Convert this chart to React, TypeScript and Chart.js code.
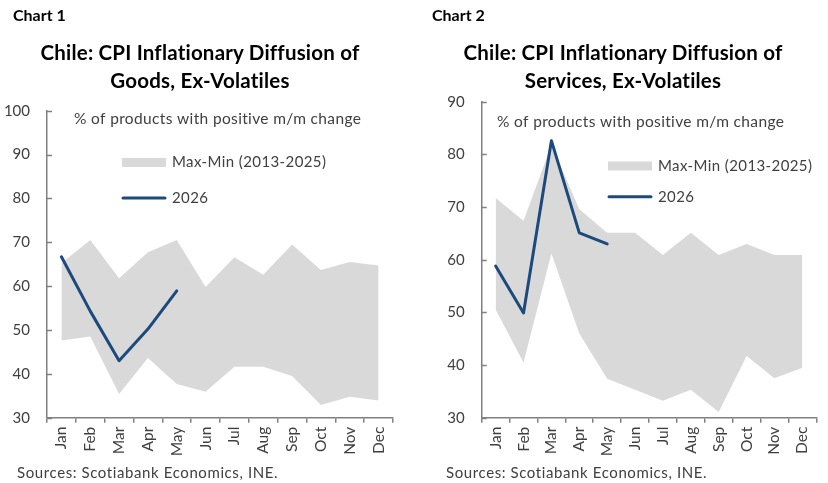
import React, { useEffect, useRef } from 'react';
import { Chart, registerables } from 'chart.js';

Chart.register(...registerables);

// Month categories shared by both panels
const months = ['Jan', 'Feb', 'Mar', 'Apr', 'May', 'Jun', 'Jul', 'Aug', 'Sep', 'Oct', 'Nov', 'Dec'];

// Goods, ex-volatiles: historical range and current year
const goodsMax = [65.2, 70.5, 61.8, 67.7, 70.5, 59.8, 66.6, 62.6, 69.5, 63.7, 65.5, 64.7];
const goodsMin = [47.6, 48.5, 35.4, 43.6, 37.7, 35.9, 41.6, 41.6, 39.5, 32.9, 34.8, 33.9];
const goods2026 = [66.7, 54.3, 43.0, 50.2, 58.9, null, null, null, null, null, null, null];

// Services, ex-volatiles: historical range and current year
const servicesMax = [71.7, 67.4, 81.8, 69.6, 65.1, 65.1, 60.9, 65.1, 60.9, 63.0, 60.9, 60.9];
const servicesMin = [50.5, 40.5, 61.2, 46.0, 37.4, 35.3, 33.2, 35.3, 31.1, 41.7, 37.5, 39.5];
const services2026 = [58.8, 49.9, 82.6, 65.1, 63.0, null, null, null, null, null, null, null];

// Y tick range per panel
const goodsTicks = { min: 30, max: 100, step: 10 };
const servicesTicks = { min: 30, max: 90, step: 10 };

const FONT = 'Lato, "Noto Sans", sans-serif';
const AXIS = '#808080';
const TEXT = '#404040';
const BAND = '#d9d9d9';
const LINE = '#1d4a7c';

const NOTE = '% of products with positive m/m change';
const RANGE_LABEL = 'Max-Min (2013-2025)';
const LINE_LABEL = '2026';
const SOURCE = 'Sources: Scotiabank Economics, INE.';

type Layout = {
  yWidth: number;
  padRight: number;
  padTop: number;
  noteX: number;
  noteY: number;
  legX: number;
  legBoxY: number;
  legLineY: number;
};

type PanelProps = {
  maxVals: number[];
  minVals: number[];
  current: (number | null)[];
  ticks: { min: number; max: number; step: number };
  layout: Layout;
};

const W = 414;
const H = 483;

function Panel({ maxVals, minVals, current, ticks, layout }: PanelProps) {
  const ref = useRef<HTMLCanvasElement | null>(null);

  useEffect(() => {
    if (!ref.current) return;

    // Inward y ticks, note text and in-plot legend
    const overlay = {
      id: 'overlay',
      afterDatasetsDraw(chart: any) {
        const ctx = chart.ctx;
        const area = chart.chartArea;
        const y = chart.scales.y;
        ctx.save();
        ctx.strokeStyle = AXIS;
        ctx.lineWidth = 1.5;
        y.ticks.forEach((t: any) => {
          const py = Math.round(y.getPixelForValue(t.value)) + 0.5;
          ctx.beginPath();
          ctx.moveTo(area.left, py);
          ctx.lineTo(area.left + 5, py);
          ctx.stroke();
        });

        ctx.fillStyle = TEXT;
        ctx.textBaseline = 'middle';
        ctx.textAlign = 'left';
        ctx.font = `15.5px ${FONT}`;
        (ctx as any).letterSpacing = '0.35px';
        ctx.fillText(NOTE, layout.noteX, layout.noteY);

        ctx.font = `15px ${FONT}`;
        (ctx as any).letterSpacing = '0.4px';
        ctx.fillStyle = BAND;
        ctx.fillRect(layout.legX, layout.legBoxY - 4.5, 44, 9);
        ctx.fillStyle = TEXT;
        ctx.fillText(RANGE_LABEL, layout.legX + 50, layout.legBoxY);

        ctx.strokeStyle = LINE;
        ctx.lineWidth = 3;
        ctx.lineCap = 'round';
        ctx.beginPath();
        ctx.moveTo(layout.legX + 1, layout.legLineY);
        ctx.lineTo(layout.legX + 43, layout.legLineY);
        ctx.stroke();
        ctx.fillText(LINE_LABEL, layout.legX + 50, layout.legLineY);
        ctx.restore();
      },
    };

    const chart = new Chart(ref.current, {
      type: 'line',
      data: {
        labels: months,
        datasets: [
          {
            label: 'Max',
            data: maxVals,
            borderWidth: 0,
            pointRadius: 0,
            backgroundColor: BAND,
            borderColor: BAND,
            fill: '+1',
            order: 1,
          },
          {
            label: 'Min',
            data: minVals,
            borderWidth: 0,
            pointRadius: 0,
            borderColor: BAND,
            fill: false,
            order: 2,
          },
          {
            label: '2026',
            data: current,
            borderColor: LINE,
            borderWidth: 3,
            pointRadius: 0,
            fill: false,
            tension: 0,
            borderCapStyle: 'round',
            borderJoinStyle: 'round',
            order: 0,
          },
        ],
      },
      options: {
        responsive: false,
        animation: false,
        devicePixelRatio: 1,
        layout: {
          padding: { left: 0, right: layout.padRight, top: layout.padTop, bottom: H - 417.7 - 40 },
        },
        plugins: {
          legend: { display: false },
          title: { display: false },
          tooltip: { enabled: false },
        },
        scales: {
          x: {
            type: 'category',
            offset: true,
            afterFit(s: any) {
              s.height = 40;
            },
            grid: {
              offset: true,
              drawOnChartArea: false,
              drawTicks: true,
              tickLength: 5,
              color: AXIS,
              lineWidth: 1.5,
            },
            border: { display: true, color: AXIS, width: 1.5 },
            ticks: {
              autoSkip: false,
              minRotation: 90,
              maxRotation: 90,
              padding: 4,
              color: TEXT,
              font: { family: FONT, size: 15.5 },
            },
          },
          y: {
            min: ticks.min,
            max: ticks.max,
            afterFit(s: any) {
              s.width = layout.yWidth;
            },
            grid: { display: false, drawTicks: false },
            border: { display: true, color: AXIS, width: 1.5 },
            ticks: {
              stepSize: ticks.step,
              padding: 17,
              color: TEXT,
              font: { family: FONT, size: 15 },
            },
          },
        },
      },
      plugins: [overlay],
    } as any);

    return () => chart.destroy();
  }, []);

  return <canvas ref={ref} width={W} height={H} style={{ width: W, height: H, display: 'block' }} />;
}

const headStyle: React.CSSProperties = {
  position: 'absolute',
  fontFamily: FONT,
  fontWeight: 700,
  color: '#000',
  whiteSpace: 'nowrap',
};

type TitleProps = { left: number; sourceLeft: number; chartNo: string; line1: string; line2: string; center: number };

function Titles({ left, sourceLeft, chartNo, line1, line2, center }: TitleProps) {
  return (
    <>
      <div style={{ ...headStyle, left, top: 5, fontSize: 16 }}>{chartNo}</div>
      <div
        style={{
          ...headStyle,
          left: center - 200,
          width: 400,
          top: 39,
          fontSize: 20.5,
          lineHeight: '27.5px',
          letterSpacing: 0.2,
          textAlign: 'center',
        }}
      >
        {line1}
        <br />
        {line2}
      </div>
      <div
        style={{
          position: 'absolute',
          left: sourceLeft,
          top: 463,
          fontFamily: FONT,
          fontSize: 15,
          color: TEXT,
          letterSpacing: 0.6,
          whiteSpace: 'nowrap',
        }}
      >
        {SOURCE}
      </div>
    </>
  );
}

export default function App() {
  return (
    <div style={{ position: 'absolute', left: 0, top: 0, width: 828, height: 483, background: '#fff', overflow: 'hidden' }}>
      <div style={{ position: 'absolute', left: 0, top: 0 }}>
        <Panel
          maxVals={goodsMax}
          minVals={goodsMin}
          current={goods2026}
          ticks={goodsTicks}
          layout={{ yWidth: 47, padRight: 21, padTop: 110.7, noteX: 74, noteY: 119, legX: 122, legBoxY: 162.5, legLineY: 198 }}
        />
      </div>
      <div style={{ position: 'absolute', left: 414, top: 0 }}>
        <Panel
          maxVals={servicesMax}
          minVals={servicesMin}
          current={services2026}
          ticks={servicesTicks}
          layout={{ yWidth: 67.7, padRight: 11.7, padTop: 101.7, noteX: 83, noteY: 121.7, legX: 194, legBoxY: 166, legLineY: 196.7 }}
        />
      </div>
      <Titles left={13} sourceLeft={17} chartNo="Chart 1" line1="Chile: CPI Inflationary Diffusion of" line2="Goods, Ex-Volatiles" center={200} />
      <Titles left={432} sourceLeft={446} chartNo="Chart 2" line1="Chile: CPI Inflationary Diffusion of" line2="Services, Ex-Volatiles" center={623} />
    </div>
  );
}
